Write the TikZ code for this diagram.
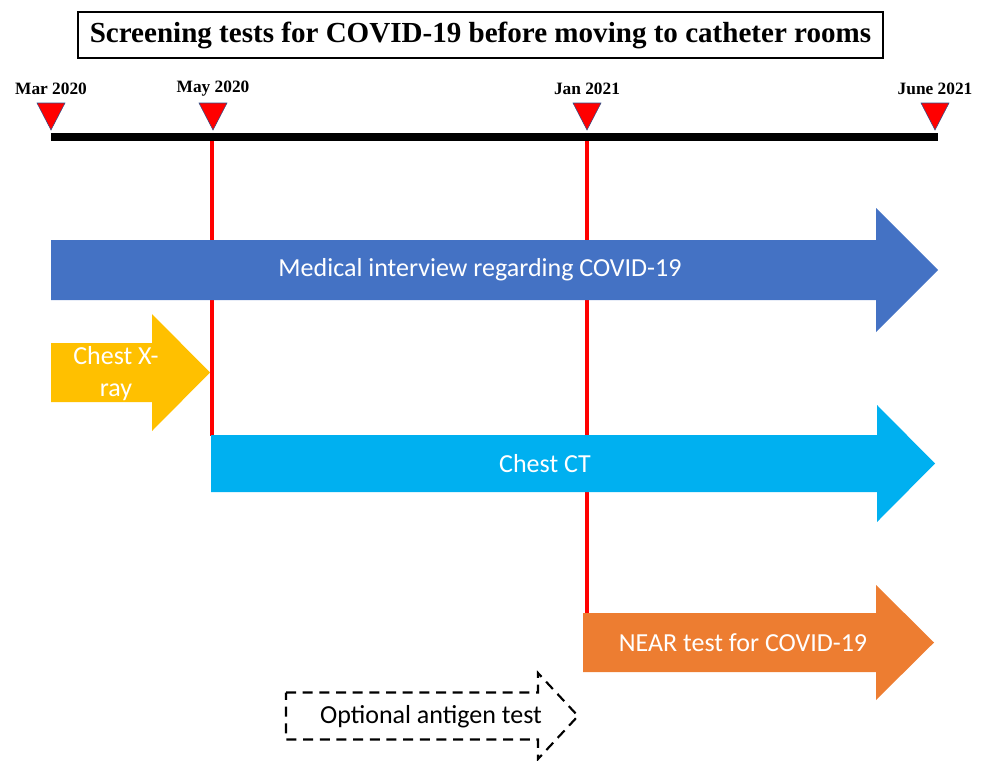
\documentclass[tikz,border=0pt]{standalone}
\usepackage{fontspec}
\setmainfont{Liberation Serif}
\newfontfamily\calfont{Carlito}
\definecolor{tlblue}{HTML}{4472C4}
\definecolor{tlyellow}{HTML}{FFC000}
\definecolor{tlcyan}{HTML}{00B0F0}
\definecolor{tlorange}{HTML}{ED7D31}
\definecolor{tlred}{HTML}{FF0000}
\begin{document}
\begin{tikzpicture}[x=0.75pt,y=-0.75pt,
  tri/.style={fill=tlred,draw=tlblue!70!black,line width=0.4pt},
  datelbl/.style={font=\bfseries\fontsize{13}{14}\selectfont,inner sep=0pt},
  armtext/.style={text=white,font=\calfont\fontsize{19.5}{24}\selectfont,inner sep=0pt,align=center},
  redline/.style={draw=tlred,line width=2.6pt}]
\useasboundingbox (0,0) rectangle (987,760);
% title
\node[draw,line width=1.1pt,minimum width=805*0.75pt,minimum height=46*0.75pt,inner sep=0pt,
  font=\bfseries\fontsize{21.8}{24}\selectfont] (title) at (480.5,35)
  {Screening tests for COVID-19 before moving to catheter rooms};
% red vertical lines (behind arrows)
\coordinate (mayTop) at (212,138);
\coordinate (mayBot) at (212,436);
\coordinate (janTop) at (587,138);
\coordinate (janBot) at (587,614);
\draw[redline] (mayTop) -- (mayBot);
\draw[redline] (janTop) -- (janBot);
% timeline
\coordinate (tlA) at (51,137);
\coordinate (tlB) at (938,137);
\draw[line width=5.3pt] (tlA) -- (tlB);
% triangles and labels
\foreach \x/\lab/\nm in {51/Mar 2020/mar,213/May 2020/may,587/Jan 2021/jan,935/June 2021/jun}{
  \draw[tri] (\x-14,103) -- (\x+14,103) -- (\x,130) -- cycle;
  \node[datelbl] (\nm) at (\x,89) {\lab};
}
% arrows: x0, base, tip, ymid, half body, half head
\newcommand{\tlarrow}[7]{%
  \path[#7] (#1,#4-#5) -- (#2,#4-#5) -- (#2,#4-#6) -- (#3,#4) -- (#2,#4+#6) -- (#2,#4+#5) -- (#1,#4+#5) -- cycle;}
\tlarrow{51}{876}{938}{270}{30}{62}{fill=tlblue}
\node[armtext] (med) at (480,270) {Medical interview regarding COVID-19};
\tlarrow{51}{152}{210}{372.5}{29.5}{58.5}{fill=tlyellow}
\node[armtext] (xray) at (116,374) {Chest X-\\ray};
\tlarrow{211}{877}{935}{463.5}{28.5}{58.5}{fill=tlcyan}
\node[armtext] (ct) at (545,464) {Chest CT};
\tlarrow{583}{876}{934}{642.5}{29.5}{57.5}{fill=tlorange}
\node[armtext] (near) at (743,643) {NEAR test for COVID-19};
\tlarrow{286}{538}{578}{716}{23.5}{43}{draw=black,line width=1.6pt,dash pattern=on 7.5pt off 5pt}
\node[armtext,text=black] (anti) at (431,717) {Optional antigen test};
\end{tikzpicture}
\end{document}
